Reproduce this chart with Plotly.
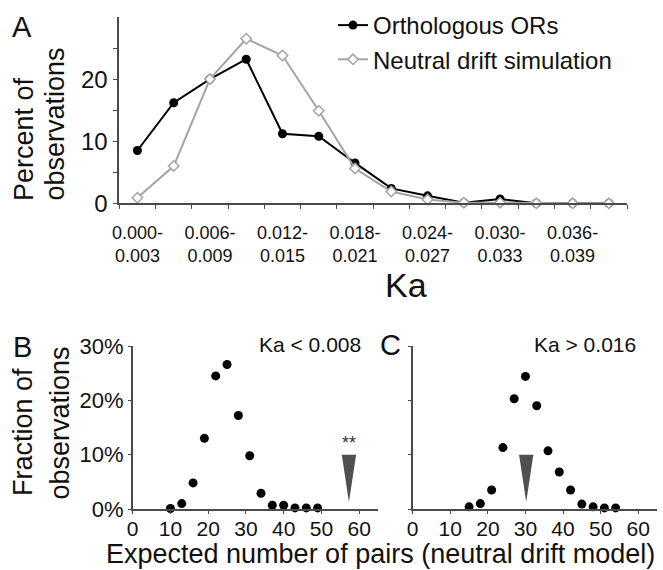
import plotly.graph_objects as go

# ---------------- data ----------------
ka_bins = ["0.000-0.003", "0.003-0.006", "0.006-0.009", "0.009-0.012", "0.012-0.015",
           "0.015-0.018", "0.018-0.021", "0.021-0.024", "0.024-0.027", "0.027-0.030",
           "0.030-0.033", "0.033-0.036", "0.036-0.039", "0.039-0.042"]
orthologous_pct = [8.5, 16.2, 20.0, 23.2, 11.2, 10.8, 6.5, 2.4, 1.2, 0.1, 0.7, 0.0, 0.0, 0.0]
neutral_pct = [0.9, 6.0, 20.0, 26.5, 23.8, 14.9, 5.6, 1.9, 0.6, 0.1, 0.1, 0.0, 0.0, 0.0]

expected_b = [10, 13, 16, 19, 22, 25, 28, 31, 34, 37, 40, 43, 46, 49]
fraction_b = [0.1, 1.0, 4.8, 13.0, 24.5, 26.6, 17.2, 9.8, 2.9, 0.7, 0.7, 0.2, 0.2, 0.2]
expected_c = [15, 18, 21, 24, 27, 30, 33, 36, 39, 42, 45, 48, 51, 54]
fraction_c = [0.4, 1.0, 3.5, 11.3, 20.3, 24.4, 19.0, 10.7, 6.8, 3.5, 0.9, 0.4, 0.2, 0.2]

observed_b = 57.3   # observed number of pairs, Ka < 0.008
observed_c = 30.2   # observed number of pairs, Ka > 0.016
arrow_top = 10.0
arrow_tip = 1.3
arrow_halfwidth = 1.9

a_yticks = [0, 10, 20]
a_yminor = [5, 15, 25]
bc_yticks = [0, 10, 20, 30]
bc_ytext = ["0%", "10%", "20%", "30%"]
bc_xticks = [0, 10, 20, 30, 40, 50, 60]

# ---------------- layout helpers ----------------
W, H = 663, 570
FONT = "Liberation Sans, Arial, Helvetica, sans-serif"
AX = "#4a4a4a"


def px(x):
    return x / W


def py(y):
    return 1 - y / H


fig = go.Figure()

# Panel A
fig.add_trace(go.Scatter(
    x=ka_bins, y=orthologous_pct, name="Orthologous ORs", mode="lines+markers",
    line=dict(color="black", width=2), marker=dict(color="black", size=9),
    xaxis="x", yaxis="y", cliponaxis=False))
fig.add_trace(go.Scatter(
    x=ka_bins, y=neutral_pct, name="Neutral drift simulation", mode="lines+markers",
    line=dict(color="#a4a4a4", width=2),
    marker=dict(symbol="diamond", color="white", size=8, line=dict(color="#a4a4a4", width=1.5)),
    xaxis="x", yaxis="y", cliponaxis=False))

# Panel B
fig.add_trace(go.Scatter(
    x=expected_b, y=fraction_b, mode="markers", showlegend=False,
    marker=dict(color="black", size=9), xaxis="x2", yaxis="y2", cliponaxis=False))
fig.add_trace(go.Scatter(
    x=[observed_b - arrow_halfwidth, observed_b + arrow_halfwidth, observed_b, observed_b - arrow_halfwidth],
    y=[arrow_top, arrow_top, arrow_tip, arrow_top], mode="lines", fill="toself",
    fillcolor="#505050", line=dict(width=0, color="#505050"), showlegend=False,
    xaxis="x2", yaxis="y2", hoverinfo="skip"))

# Panel C
fig.add_trace(go.Scatter(
    x=expected_c, y=fraction_c, mode="markers", showlegend=False,
    marker=dict(color="black", size=9), xaxis="x3", yaxis="y3", cliponaxis=False))
fig.add_trace(go.Scatter(
    x=[observed_c - arrow_halfwidth, observed_c + arrow_halfwidth, observed_c, observed_c - arrow_halfwidth],
    y=[arrow_top, arrow_top, arrow_tip, arrow_top], mode="lines", fill="toself",
    fillcolor="#505050", line=dict(width=0, color="#505050"), showlegend=False,
    xaxis="x3", yaxis="y3", hoverinfo="skip"))

ka_ticktext = [b.replace("-", "-<br>") if i % 2 == 0 else "" for i, b in enumerate(ka_bins)]

common_axis = dict(showgrid=False, zeroline=False, showline=True, linecolor=AX, linewidth=1.6,
                   tickcolor=AX, tickwidth=1.4, ticks="outside")

fig.update_layout(
    width=W, height=H, margin=dict(l=0, r=0, t=0, b=0, autoexpand=False),
    paper_bgcolor="white", plot_bgcolor="white",
    font=dict(family=FONT, color="#111"),
    xaxis=dict(domain=[px(119.3), px(627)], anchor="y", type="category",
               range=[-0.5, len(ka_bins) - 0.5], tickvals=ka_bins, ticktext=ka_ticktext,
               tickson="boundaries", ticklen=4, tickangle=0, tickfont=dict(size=18),
               ticklabelstandoff=12, **common_axis),
    yaxis=dict(domain=[py(203.3), py(17)], anchor="x", range=[0, 30],
               tickvals=a_yticks, ticklen=5, tickfont=dict(size=24),
               minor=dict(tickvals=a_yminor, ticklen=5, tickcolor=AX, ticks="outside"),
               **common_axis),
    xaxis2=dict(domain=[px(132.7), px(378)], anchor="y2", range=[0, 65],
                tickvals=bc_xticks, ticklen=3, tickangle=0, tickfont=dict(size=21),
                ticklabelstandoff=-3, **common_axis),
    yaxis2=dict(domain=[py(509), py(346)], anchor="x2", range=[0, 30],
                tickvals=bc_yticks, ticktext=bc_ytext, ticklen=3, tickfont=dict(size=22),
                **common_axis),
    xaxis3=dict(domain=[px(412.7), px(657)], anchor="y3", range=[0, 65],
                tickvals=bc_xticks, ticklen=3, tickangle=0, tickfont=dict(size=21),
                ticklabelstandoff=-3, **common_axis),
    yaxis3=dict(domain=[py(509), py(346)], anchor="x3", range=[0, 30],
                tickvals=bc_yticks, showticklabels=False, ticklen=3, **common_axis),
    legend=dict(x=px(333), y=py(3), xanchor="left", yanchor="top",
                font=dict(size=24, color="#111"), bgcolor="rgba(0,0,0,0)",
                tracegroupgap=0, itemwidth=30),
    showlegend=True,
)


def ann(text, x, y, size, xanchor="center", yanchor="middle", angle=0, xref="paper", yref="paper"):
    fig.add_annotation(text=text, x=x, y=y, xref=xref, yref=yref, showarrow=False,
                       xanchor=xanchor, yanchor=yanchor, textangle=angle,
                       font=dict(size=size, family=FONT, color="#111"))


# panel letters
ann("A", px(22), py(27), 29)
ann("B", px(22), py(347), 29)
ann("C", px(390), py(345), 29)

# axis titles
ann("Percent of", px(24), py(203), 27, yanchor="bottom", angle=-90)
ann("observations", px(54), py(203), 27, yanchor="bottom", angle=-90)
ann("Fraction of", px(23), py(498), 27, yanchor="bottom", angle=-90)
ann("observations", px(59), py(502), 27, yanchor="bottom", angle=-90)
ann("Ka", px(406), py(285), 34)
ann("Expected number of pairs (neutral drift model)", px(381), py(554), 27)

# panel subtitles
ann("Ka &lt; 0.008", px(310), py(344), 21)
ann("Ka &gt; 0.016", px(585), py(344), 21)
fig.add_annotation(text="**", x=observed_b, y=arrow_top, xref="x2", yref="y2", showarrow=False,
                   yanchor="bottom", yshift=0, font=dict(size=18, family=FONT, color="#333"))

fig.write_html("out.html", config={"displayModeBar": False},
               post_script="document.body.style.margin='0px';")
